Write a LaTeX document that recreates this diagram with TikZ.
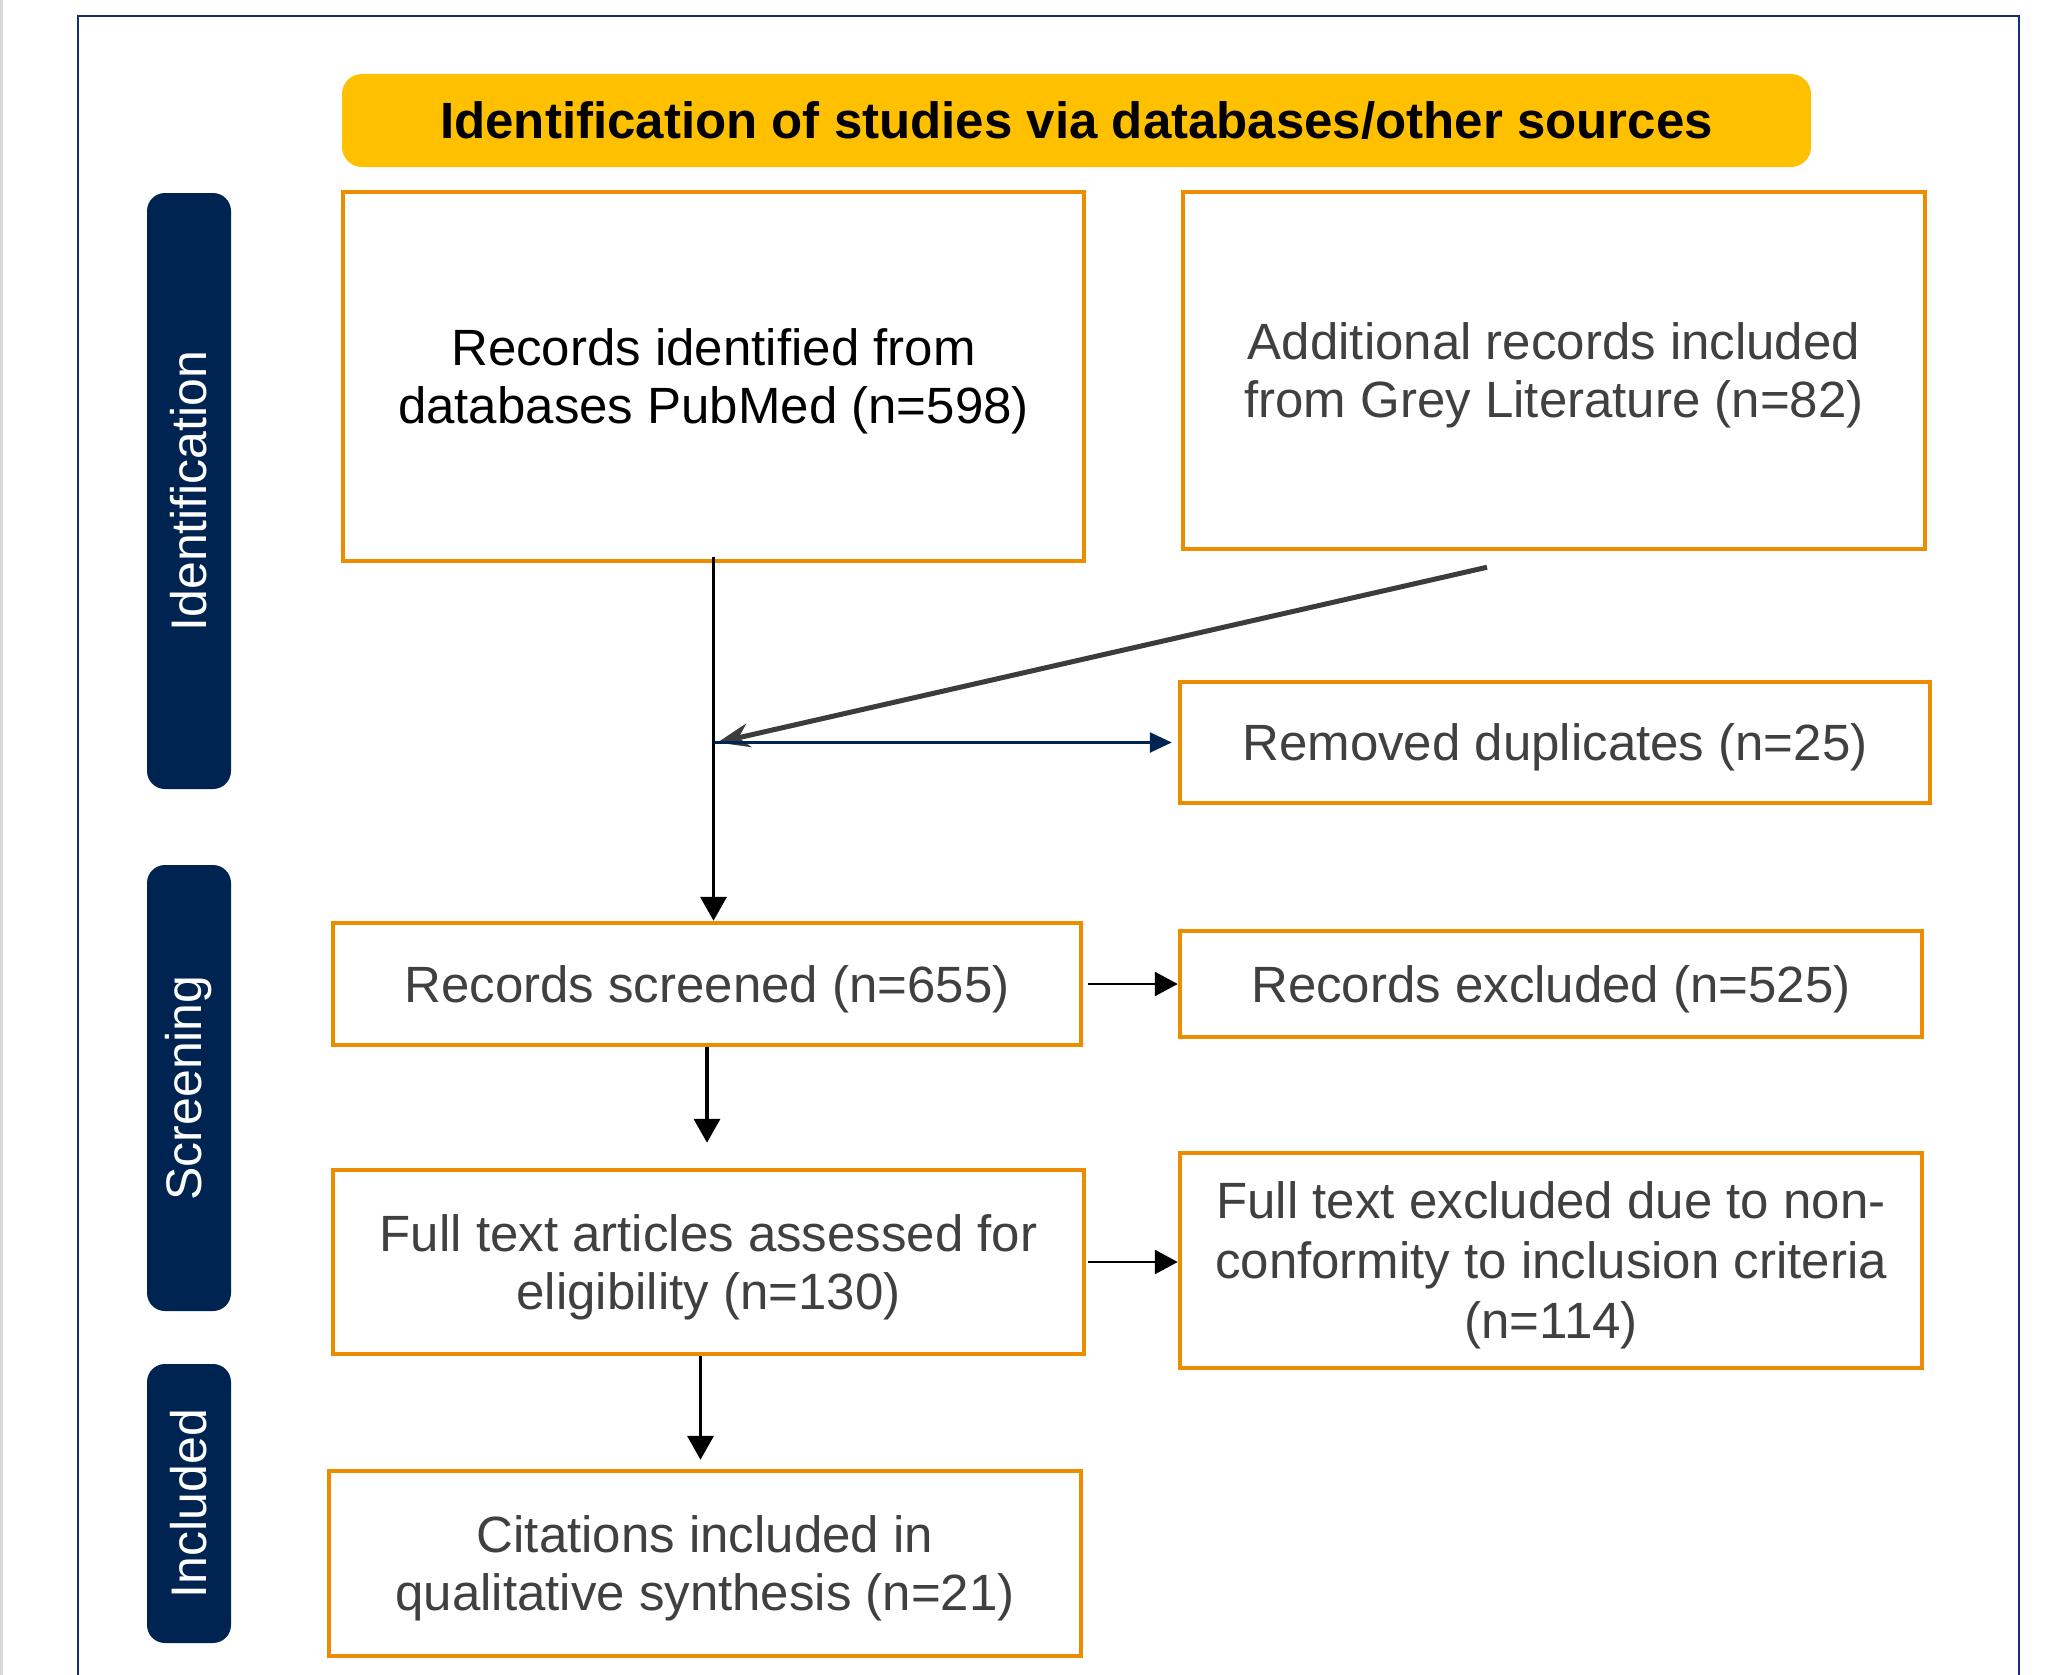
\documentclass[tikz,border=0pt]{standalone}
\usepackage{fontspec}
\setmainfont{Liberation Sans}
\usetikzlibrary{arrows.meta,calc}
\definecolor{boxorange}{HTML}{EE8C00}
\definecolor{headyellow}{HTML}{FFC000}
\definecolor{barnavy}{HTML}{002451}
\definecolor{framenavy}{HTML}{14306E}
\definecolor{txtgray}{HTML}{404040}
\definecolor{arrgray}{HTML}{3C3C3C}
\definecolor{stripgray}{HTML}{DADADA}
\tikzset{
  x=1pt,y=-1pt,
  flowbox/.style={draw=boxorange, line width=4.5pt, fill=white, align=center, inner sep=0pt,
    text depth=0pt, text=txtgray, font=\fontsize{51}{58}\selectfont},
  sidebar/.style={fill=barnavy, rounded corners=18pt, rotate=90, inner sep=0pt,
    minimum height=84pt, text=white, font=\fontsize{50}{58}\selectfont},
  vertarrow/.style={draw=black, line width=3.8pt, -{Triangle[length=24pt,width=26pt]}},
  horarrow/.style={draw=black, line width=2.6pt, -{Triangle[length=23pt,width=24pt]}},
  grayarrow/.style={draw=arrgray, line width=5pt, -{Stealth[length=32pt,width=24pt]}},
  navyarrow/.style={draw=barnavy, line width=2.6pt, -{Triangle[length=22pt,width=20pt]}}
}
\begin{document}
\begin{tikzpicture}
\useasboundingbox (0,0) rectangle (2045,1675);
\clip (0,0) rectangle (2045,1675);
\fill[stripgray] (0,0) rectangle (3,1675);
\draw[framenavy, line width=2.6pt] (78,1700) -- (78,16) -- (2019,16) -- (2019,1700);

% header
\node[fill=headyellow, rounded corners=20pt, minimum width=1469pt, minimum height=93pt, inner sep=0pt,
  text depth=0pt, font=\fontsize{51}{58}\selectfont\bfseries] (head) at (1076.5,120.5)
  {Identification of studies via databases/other sources};

% side bars
\node[sidebar, minimum width=596pt] (sid) at (189,491) {Identification};
\node[sidebar, minimum width=446pt] (ssc) at (189,1088) {Screening};
\node[sidebar, minimum width=279pt] (sin) at (189,1503.5) {Included};

% boxes
\node[flowbox, text=black, minimum width=741pt, minimum height=369pt] (A) at (713.5,376.5)
  {Records identified from\\databases PubMed (n=598)};
\node[flowbox, minimum width=742pt, minimum height=357pt] (B) at (1554,370.5)
  {Additional records included\\from Grey Literature (n=82)};
\node[flowbox, minimum width=750pt, minimum height=121pt] (C) at (1555,742.5)
  {Removed duplicates (n=25)};
\node[flowbox, minimum width=748pt, minimum height=122pt] (D) at (707,984)
  {Records screened (n=655)};
\node[flowbox, minimum width=742pt, minimum height=106pt] (E) at (1551,984)
  {Records excluded (n=525)};
\node[flowbox, minimum width=751pt, minimum height=184pt] (F) at (708.5,1262)
  {Full text articles assessed for\\eligibility (n=130)};
\node[flowbox, minimum width=742pt, minimum height=215pt, font=\fontsize{51}{60}\selectfont] (G) at (1551,1260.5)
  {Full text excluded due to non-\\conformity to inclusion criteria\\(n=114)};
\node[flowbox, minimum width=752pt, minimum height=185pt] (H) at (705,1563.5)
  {Citations included in\\qualitative synthesis (n=21)};

% connector points
\coordinate (J) at (A.south |- C.west);
\coordinate (a0) at ($(A.south)+(0,-6)$);
\coordinate (a1) at (A.south |- D.north);
\coordinate (g0) at ($(B.south)+(-67,16)$);
\coordinate (g1) at ($(J)+(4,0)$);
\coordinate (d0) at ($(D.east)+(5,0)$);
\coordinate (d1) at (E.west |- D.east);
\coordinate (f0) at ($(F.east)+(2,0)$);
\coordinate (f1) at (G.west |- F.east);
\coordinate (h0) at ($(F.south)+(-8,0)$);
\coordinate (h1) at ($(h0 |- H.north)+(0,-9)$);
\coordinate (s1) at ($(D.south |- F.north)+(0,-25)$);

% connectors
\draw[vertarrow] (a0) -- (a1);
\draw[grayarrow] (g0) -- (g1);
\draw[navyarrow, shorten >=6pt] (J) -- (C.west);
\draw[horarrow] (d0) -- (d1);
\draw[vertarrow] (D.south) -- (s1);
\draw[horarrow] (f0) -- (f1);
\draw[vertarrow] (h0) -- (h1);
\end{tikzpicture}
\end{document}
